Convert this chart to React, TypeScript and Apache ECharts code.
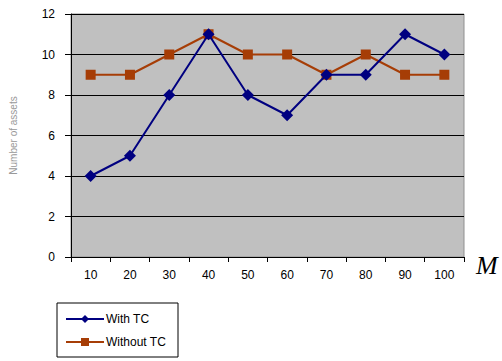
import React, { useEffect, useRef } from "react";
import * as echarts from "echarts";

const categories = ["10", "20", "30", "40", "50", "60", "70", "80", "90", "100"];
const withTC = [4, 5, 8, 11, 8, 7, 9, 9, 11, 10];
const withoutTC = [9, 9, 10, 11, 10, 10, 9, 10, 9, 9];

export default function App() {
  const ref = useRef<HTMLDivElement>(null);
  useEffect(() => {
    if (!ref.current) return;
    const chart = echarts.init(ref.current, undefined, { renderer: "svg" });
    chart.setOption({
      animation: false,
      backgroundColor: "#ffffff",
      textStyle: { fontFamily: "Liberation Sans, Arial, sans-serif" },
      grid: {
        left: 70,
        top: 14,
        width: 394,
        height: 243,
        show: true,
        backgroundColor: "#c0c0c0",
        borderColor: "#909090",
        borderWidth: 1,
      },
      legend: {
        orient: "vertical",
        left: 57,
        top: 303,
        itemWidth: 38,
        itemHeight: 10,
        itemGap: 11,
        padding: [10, 12, 9, 8],
        borderColor: "#000",
        borderWidth: 1,
        textStyle: { fontSize: 12, color: "#000", padding: [0, 0, 0, -3] },
        data: ["With TC", "Without TC"],
      },
      xAxis: {
        type: "category",
        data: categories,
        boundaryGap: true,
        axisLine: { lineStyle: { color: "#000", width: 1 } },
        axisTick: { show: true, alignWithLabel: false, length: 5, lineStyle: { color: "#000" } },
        axisLabel: { color: "#000", fontSize: 12, margin: 12 },
      },
      yAxis: {
        type: "value",
        min: 0,
        max: 12,
        interval: 2,
        name: "Number of assets",
        nameLocation: "middle",
        nameGap: 53,
        nameTextStyle: { color: "#999", fontSize: 10 },
        axisLine: { show: true, lineStyle: { color: "#000", width: 1 } },
        axisTick: { show: true, length: 6, lineStyle: { color: "#000" } },
        axisLabel: { color: "#000", fontSize: 12, margin: 16 },
        splitLine: { show: true, lineStyle: { color: "#000", width: 1 } },
      },
      series: [
        {
          name: "With TC",
          type: "line",
          data: withTC,
          symbol: "diamond",
          symbolSize: 12,
          color: "#000080",
          lineStyle: { width: 2, color: "#000080" },
          itemStyle: { color: "#000080" },
          z: 3,
        },
        {
          name: "Without TC",
          type: "line",
          data: withoutTC,
          symbol: "rect",
          symbolSize: 10,
          color: "#a63d06",
          lineStyle: { width: 2, color: "#a63d06" },
          itemStyle: { color: "#a63d06" },
          z: 2,
        },
      ],
      graphic: [
        {
          type: "text",
          left: 476,
          top: 252,
          style: {
            text: "M",
            font: "italic 26px 'Liberation Serif', 'Times New Roman', serif",
            fill: "#000",
          },
        },
      ],
    });
    return () => chart.dispose();
  }, []);
  return (
    <div
      ref={ref}
      style={{ position: "fixed", left: 0, top: 0, width: 502, height: 361 }}
    />
  );
}
